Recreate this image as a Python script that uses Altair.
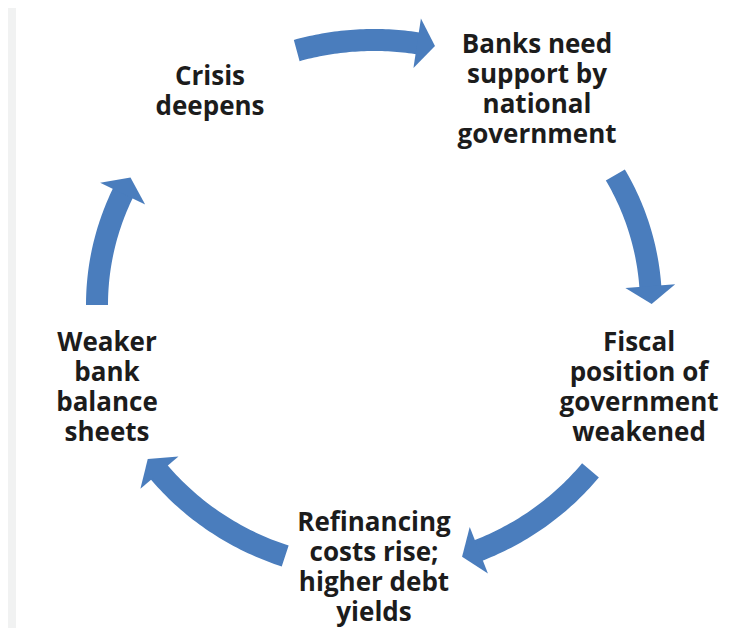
import math
import altair as alt
import pandas as pd

# ---- data ----
labels = [
    "Crisis\ndeepens",
    "Banks need\nsupport by\nnational\ngovernment",
    "Fiscal\nposition of\ngovernment\nweakened",
    "Refinancing\ncosts rise;\nhigher debt\nyields",
    "Weaker\nbank\nbalance\nsheets",
]
label_x = [210, 537, 639, 374, 107]
label_y = [85, 53, 351, 531, 351]

# arrows: angles in degrees, clockwise from 12 o'clock, around the cycle
arrow_start = [-16.2, 60.6, 128.6, 198.7, 270.0]
arrow_end = [12.7, 89.8, 161.5, 234.6, 298.7]

# ---- layout ----
CX, CY, RX, RY = 374, 305, 277, 265
BODY_W = 22
HEAD_HALF_W = 25
HEAD_L = 18
BLUE = "#4a7dbd"
TEXT = "#1c1c1c"


def pt(theta_deg):
    t = math.radians(theta_deg)
    return CX + RX * math.sin(t), CY - RY * math.cos(t)


def speed(theta_deg):
    t = math.radians(theta_deg)
    return math.hypot(RX * math.cos(t), RY * math.sin(t))  # px per radian


body_rows, head_rows = [], []
for k, (a0, a1) in enumerate(zip(arrow_start, arrow_end)):
    dtheta = math.degrees(HEAD_L / speed(a1))
    base = a1 - dtheta
    stop = base + math.degrees(2 / speed(a1))
    n = 40
    for i in range(n + 1):
        th = a0 + (stop - a0) * i / n
        x, y = pt(th)
        body_rows.append({"arrow": k, "i": i, "x": x, "y": y})
    bx, by = pt(base)
    t = math.radians(base)
    ang = math.degrees(math.atan2(RX * math.cos(t), -RY * math.sin(t))) % 360
    head_rows.append({"arrow": k, "x": bx, "y": by, "ang": ang})

body_df = pd.DataFrame(body_rows)
head_df = pd.DataFrame(head_rows)
label_df = pd.DataFrame({"text": labels, "x": label_x, "y": label_y})

xs = alt.Scale(domain=[8, 732], nice=False, zero=False)
ys = alt.Scale(domain=[8, 628], reverse=True, nice=False, zero=False)

strip = alt.Chart(pd.DataFrame({"x": [8], "x2": [16], "y": [8], "y2": [628]})).mark_rect(
    color="#f1f2f2"
).encode(
    x=alt.X("x:Q", scale=xs, axis=None),
    x2="x2:Q",
    y=alt.Y("y:Q", scale=ys, axis=None),
    y2="y2:Q",
)

bodies = alt.Chart(body_df).mark_line(
    strokeWidth=BODY_W, strokeCap="butt", color=BLUE
).encode(
    x=alt.X("x:Q", scale=xs, axis=None),
    y=alt.Y("y:Q", scale=ys, axis=None),
    detail="arrow:N",
    order="i:Q",
)

head_path = "M0,-%.3fL1,0L-1,0Z" % (HEAD_L / HEAD_HALF_W)
heads = alt.Chart(head_df).mark_point(
    shape=head_path, filled=True, size=(2 * HEAD_HALF_W) ** 2, color=BLUE, opacity=1, strokeWidth=0
).encode(
    x=alt.X("x:Q", scale=xs, axis=None),
    y=alt.Y("y:Q", scale=ys, axis=None),
    angle=alt.Angle("ang:Q", scale=None),
)

texts = alt.Chart(label_df).mark_text(
    font="Open Sans", fontWeight="bold", fontSize=26, lineHeight=30,
    align="center", baseline="alphabetic", lineBreak="\n", color=TEXT
).encode(
    x=alt.X("x:Q", scale=xs, axis=None),
    y=alt.Y("y:Q", scale=ys, axis=None),
    text="text:N",
)

chart = alt.layer(strip, bodies, heads, texts).properties(
    width=724, height=620, padding=0, autosize=alt.AutoSizeParams(type="none"),
    background="white",
).configure_view(stroke=None)

chart.save("out.html", embed_options={"renderer": "svg", "actions": False})
